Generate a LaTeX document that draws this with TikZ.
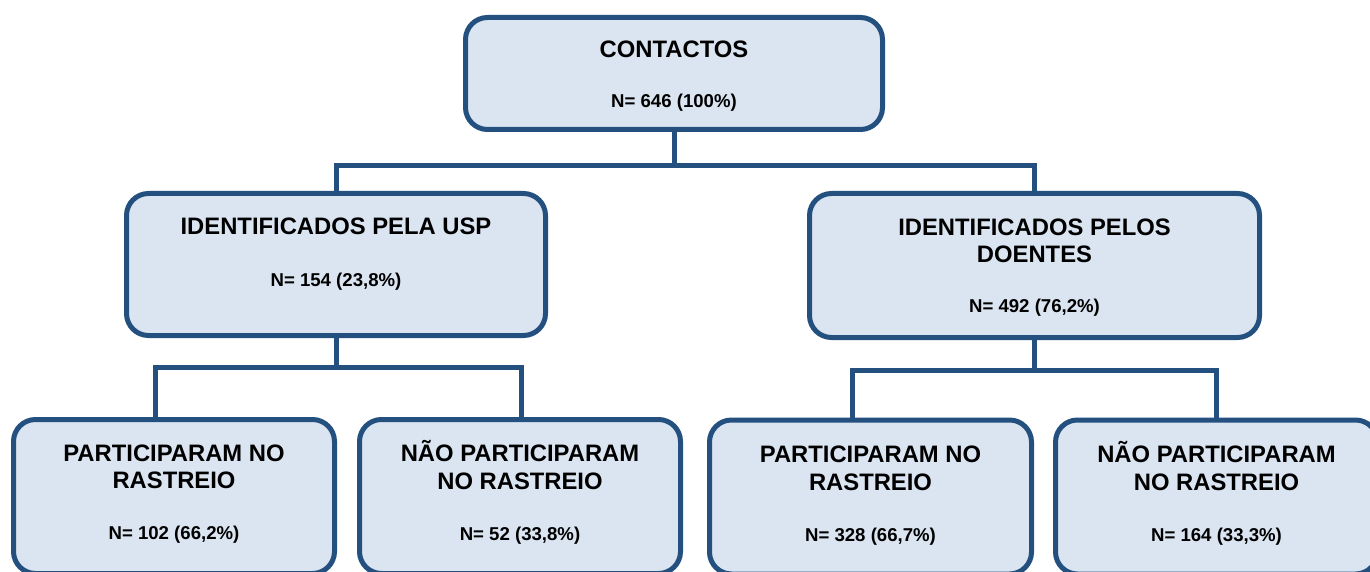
\documentclass[tikz,border=0pt]{standalone}
\usepackage{fontspec}
\setmainfont{Liberation Sans}
\definecolor{bordc}{HTML}{24507F}
\definecolor{fillc}{HTML}{DBE5F1}
\tikzset{
  box/.style={draw=bordc, fill=fillc, line width=5pt, rounded corners=22pt, inner sep=0pt, outer sep=0pt},
  conn/.style={draw=bordc, line width=5pt},
  ttl/.style={font=\fontsize{23.8}{27}\selectfont\bfseries, anchor=base, inner sep=0pt},
  num/.style={font=\fontsize{18.6}{21}\selectfont\bfseries, anchor=base, inner sep=0pt},
}
\begin{document}
\begin{tikzpicture}[x=1pt,y=-1pt]
\useasboundingbox (0,0) rectangle (1370,572);
\clip (0,0) rectangle (1370,572);

% junction points
\coordinate (j1) at (676,166);
\coordinate (j2) at (337,367);
\coordinate (j3) at (1035,370);

% boxes
\node[box, minimum width=417pt, minimum height=112pt] (top) at (674,73.5) {};
\node[box, minimum width=419pt, minimum height=142pt] (midL) at (336,264.5) {};
\node[box, minimum width=450pt, minimum height=144pt] (midR) at (1034.5,265.5) {};
\node[box, minimum width=321pt, minimum height=154pt] (b1) at (174,496.5) {};
\node[box, minimum width=321pt, minimum height=154pt] (b2) at (520,496.5) {};
\node[box, minimum width=322pt, minimum height=154pt] (b3) at (870.5,497) {};
\node[box, minimum width=322pt, minimum height=154pt] (b4) at (1216.5,497) {};

% connectors
\draw[conn] (top.south) -- (top.south |- j1);
\draw[conn] (midL.north) |- (j1) -| (midR.north);
\draw[conn] (midL.south) -- (midL.south |- j2);
\draw[conn] ([xshift=-19pt]b1.north) |- (j2) -| ([xshift=1pt]b2.north);
\draw[conn] (midR.south) -- (midR.south |- j3);
\draw[conn] ([xshift=-18.5pt]b3.north) |- (j3) -| (b4.north);

% texts
\node[ttl] (t0a) at (674,57.3) {CONTACTOS};
\node[num] (t0b) at (674,107.3) {N= 646 (100\%)};

\node[ttl] (tLa) at (336,234.3) {IDENTIFICADOS PELA USP};
\node[num] (tLb) at (336,286) {N= 154 (23,8\%)};

\node[ttl] (tRa) at (1034.5,235) {IDENTIFICADOS PELOS};
\node[ttl] (tRb) at (1034.5,262.7) {DOENTES};
\node[num] (tRc) at (1034.5,312.3) {N= 492 (76,2\%)};

\node[ttl] (t1a) at (174,461.7) {PARTICIPARAM NO};
\node[ttl] (t1b) at (174,488.3) {RASTREIO};
\node[num] (t1c) at (174,539) {N= 102 (66,2\%)};

\node[ttl] (t2a) at (520,461.7) {NÃO PARTICIPARAM};
\node[ttl] (t2b) at (520,489) {NO RASTREIO};
\node[num] (t2c) at (520,540) {N= 52 (33,8\%)};

\node[ttl] (t3a) at (870.5,462.7) {PARTICIPARAM NO};
\node[ttl] (t3b) at (870.5,490.7) {RASTREIO};
\node[num] (t3c) at (870.5,541.7) {N= 328 (66,7\%)};

\node[ttl] (t4a) at (1216.5,462.7) {NÃO PARTICIPARAM};
\node[ttl] (t4b) at (1216.5,490) {NO RASTREIO};
\node[num] (t4c) at (1216.5,541.7) {N= 164 (33,3\%)};
\end{tikzpicture}
\end{document}
